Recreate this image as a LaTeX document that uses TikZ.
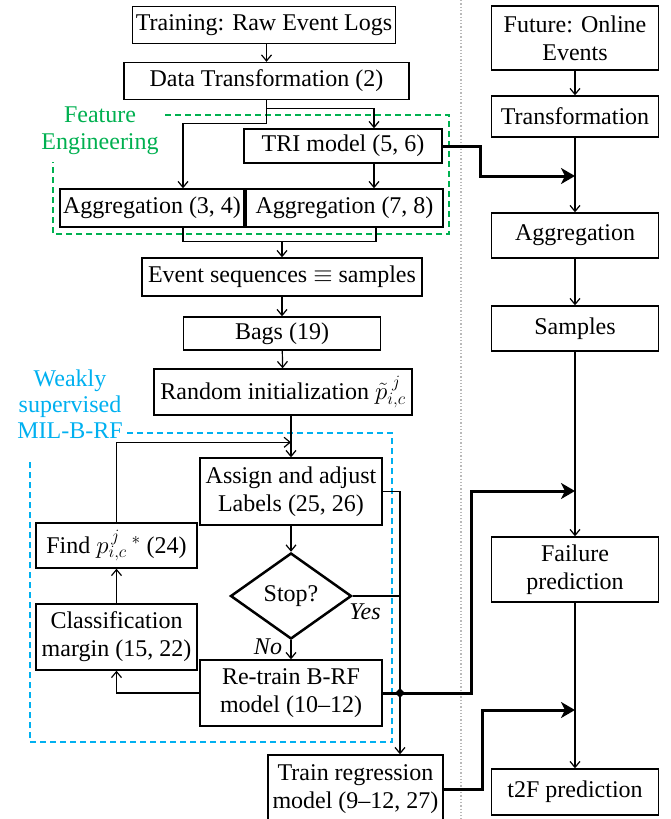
\documentclass[tikz,border=0pt]{standalone}
\usepackage{fontspec}
\setmainfont{Liberation Serif}
\usetikzlibrary{arrows.meta,shapes.geometric}
\definecolor{fegreen}{RGB}{0,176,80}
\definecolor{milblue}{RGB}{0,176,240}
\tikzset{
  box/.style={draw, line width=1.4pt, inner sep=0pt, align=center, font=\fontsize{24}{28}\selectfont},
  conn/.style={line width=1.2pt},
  arr/.style={line width=1.2pt, -{Straight Barb[length=6pt,width=10pt]}},
  thickarr/.style={line width=3pt, -{Stealth[length=14pt,width=16pt,inset=4pt]}},
  grouplabel/.style={align=center, font=\fontsize{24}{27}\selectfont},
  branchlabel/.style={font=\fontsize{24}{28}\selectfont\itshape, inner sep=0pt},
  frame/.style={dashed, dash pattern=on 6pt off 4pt, line width=1.3pt}
}
\begin{document}
\begin{tikzpicture}[x=1pt,y=-1pt]
\useasboundingbox (0,0) rectangle (671,819);

% separator
\draw[gray!55, dotted, line width=1.3pt] (461,0) -- (461,819);

% left column
\node[box,minimum width=263pt,minimum height=37pt] (train) at (264,25) {Training: Raw Event Logs};
\node[box,minimum width=285pt,minimum height=37pt] (dt) at (266.5,81) {Data Transformation (2)};
\node[box,minimum width=198pt,minimum height=34pt] (tri) at (343,146) {TRI model (5, 6)};
\node[box,minimum width=184pt,minimum height=38pt] (agga) at (152,208) {Aggregation (3, 4)};
\node[box,minimum width=197pt,minimum height=38pt] (aggb) at (344.5,208) {Aggregation (7, 8)};
\node[box,minimum width=280pt,minimum height=38pt] (evs) at (282,277) {Event sequences $\equiv$ samples};
\node[box,minimum width=197pt,minimum height=33pt] (bags) at (282,333.5) {Bags (19)};
\node[box,minimum width=258pt,minimum height=46pt] (rand) at (283,392) {Random initialization ${\tilde{p}}^{\;j}_{i,c}$};
\node[box,minimum width=182pt,minimum height=67pt] (assign) at (291,491.5) {Assign and adjust\\Labels (25, 26)};
\node[box,minimum width=161pt,minimum height=45pt] (find) at (116.5,545.5) {Find $p^{\,j}_{i,c}{}^{\;*}$ (24)};
\node[diamond, draw, line width=2.5pt, aspect=1.4, minimum width=121pt, minimum height=86pt, inner sep=0pt, font=\fontsize{24}{28}\selectfont] (stop) at (291,596) {Stop?};
\node[box,minimum width=161pt,minimum height=66pt] (class) at (116.5,637) {Classification\\margin (15, 22)};
\node[box,minimum width=182pt,minimum height=66pt] (retrain) at (291,693) {Re-train B-RF\\model (10--12)};
\node[box,minimum width=175pt,minimum height=68pt] (treg) at (355.5,789) {Train regression\\model (9--12, 27)};

\node[branchlabel] (yes) at (365,612) {Yes};
\node[branchlabel] (no) at (268,647) {No};

% right column
\node[box,minimum width=167pt,minimum height=64pt] (future) at (575,38) {Future: Online\\Events};
\node[box,minimum width=167pt,minimum height=41pt] (transf) at (575,116.5) {Transformation};
\node[box,minimum width=167pt,minimum height=45pt] (aggr) at (575,235.5) {Aggregation};
\node[box,minimum width=167pt,minimum height=45pt] (samples) at (575,328.5) {Samples};
\node[box,minimum width=167pt,minimum height=65pt] (fail) at (575,569.5) {Failure\\prediction};
\node[box,minimum width=167pt,minimum height=46pt] (t2f) at (575,792) {t2F prediction};

% group frames
\draw[fegreen, frame] (165,115) -- (449,115) -- (449,234) -- (53,234) -- (53,162);
\node[grouplabel, text=fegreen] (fe) at (100,131) {Feature\\Engineering};
\draw[milblue, frame] (127,433) -- (392,433) -- (392,742) -- (30,742) -- (30,459);
\node[grouplabel, text=milblue, font=\fontsize{24}{26}\selectfont] (mil) at (70,404) {Weakly\\supervised\\MIL-B-RF};

% left connectors
\draw[arr] (train.south -| dt) -- (dt.north);
\draw[arr] (dt.south) -- ++(0,8) -| ([xshift=31pt]tri.north);
\draw[arr] (dt.south) -- ++(0,23) -| ([xshift=31pt]agga.north);
\draw[arr] ([xshift=31pt]tri.south) -- ([xshift=31pt]tri.south |- aggb.north);
\draw[conn] ([xshift=31pt]agga.south) -- ++(0,14) -| ([xshift=31.5pt]aggb.south);
\coordinate (merge) at (282,241);
\draw[arr] (merge) -- (evs.north);
\draw[arr] (evs) -- (bags);
\draw[arr] (bags) -- (rand);
\draw[arr] (rand.south -| assign) -- (assign.north);
\draw[arr] (find.north) |- ([yshift=15pt]assign.north);
\draw[arr] (assign) -- (stop);
\draw[arr] (stop) -- (retrain);
\draw[arr] (retrain.west) -| (class.south);
\draw[arr] (class) -- (find);

\coordinate (jn) at (400,693);
\draw[conn] (assign.east) -| (jn);
\draw[conn] (stop.east) -- (stop.east -| jn);
\draw[arr] (jn) -- (jn |- treg.north);

% right connectors
\draw[arr] (future) -- (transf);
\draw[arr] (transf) -- (aggr);
\draw[arr] (aggr) -- (samples);
\draw[arr] (samples) -- (fail);
\draw[arr] (fail) -- (t2f);

% thick cross connectors
\coordinate (in0) at (575,176);
\coordinate (in1) at (575,491);
\coordinate (in2) at (575,710);
\draw[thickarr] (tri.east) -- ++(38,0) |- (in0);
\draw[thickarr] (retrain.east) -- (jn) -- ++(71,0) |- (in1);
\draw[thickarr] (treg.east) -- ++(39,0) |- (in2);
\node[fill, diamond, inner sep=0pt, minimum size=10pt] (dot) at (jn) {};
\end{tikzpicture}
\end{document}
